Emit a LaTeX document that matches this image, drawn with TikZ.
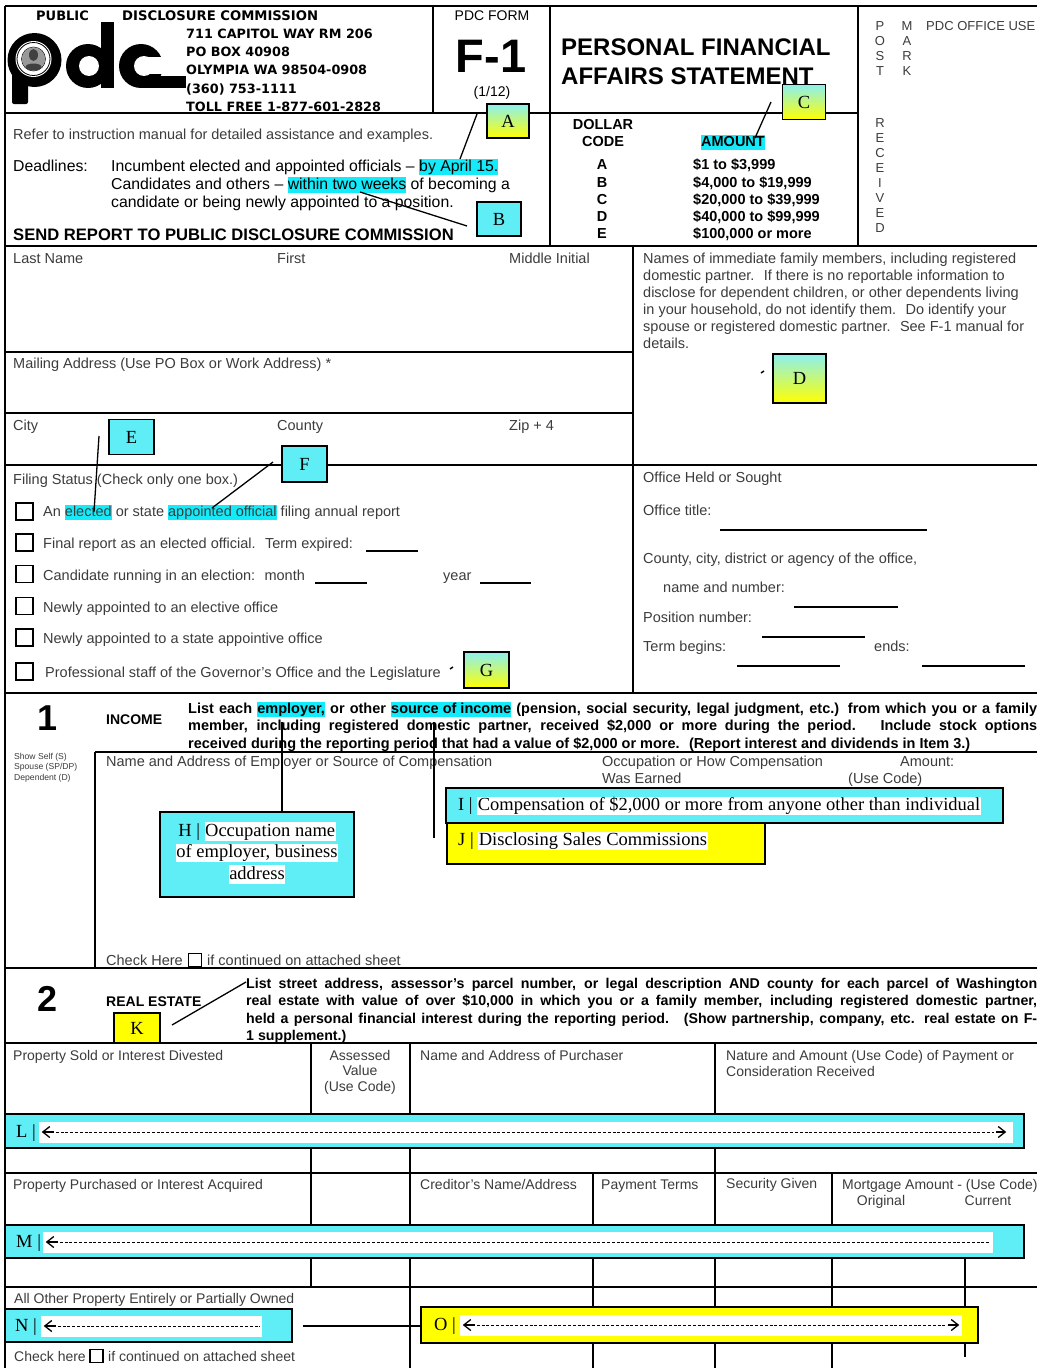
\documentclass[tikz,border=0pt]{standalone}
\usepackage{fontspec}
\setmainfont{Liberation Sans}
\newfontfamily\tnr{Liberation Serif}
\newfontfamily\dvs{DejaVu Sans}
\usetikzlibrary{arrows.meta}
\definecolor{hlc}{RGB}{20,235,250}
\definecolor{boxc}{RGB}{95,238,245}
\definecolor{boxy}{RGB}{255,255,0}
\definecolor{gtop}{RGB}{140,240,240}
\definecolor{txtg}{RGB}{60,60,60}
\newcommand\fsz[2]{\fontsize{#1pt}{#2pt}\selectfont}
\newcommand\hil[1]{{\setlength{\fboxsep}{0pt}\colorbox{hlc}{\rule[-0.24em]{0pt}{1.02em}#1}}}
\newcommand\wbx[1]{{\setlength{\fboxsep}{0.5pt}\colorbox{white}{\rule[-0.22em]{0pt}{0.95em}#1}}}
\tikzset{
  frm/.style={line width=2pt},
  lab/.style={anchor=mid west, inner sep=0pt, yshift=-3pt, font=\fsz{14.5}{17}, text=txtg},
  tlab/.style={anchor=mid west, inner sep=0pt, yshift=-3pt, font=\fsz{14}{16}, text=txtg},
  tlabc/.style={anchor=mid, inner sep=0pt, yshift=-3pt, font=\fsz{14}{16}, text=txtg},
  dark/.style={anchor=mid west, inner sep=0pt, yshift=-3pt, font=\fsz{15.8}{18}, text=black},
  amt/.style={anchor=mid west, inner sep=0pt, yshift=-3pt, font=\bfseries\fsz{14.5}{17}},
  amtc/.style={anchor=mid, inner sep=0pt, yshift=-3pt, font=\bfseries\fsz{14.5}{17}},
  offc/.style={anchor=mid, inner sep=0pt, yshift=-3pt, font=\fsz{13}{15}, text=txtg},
  addr/.style={anchor=west, inner sep=0pt, font=\dvs\bfseries\fsz{12.8}{15}},
  para/.style={anchor=mid west, inner sep=0pt, yshift=-3pt, font=\bfseries\fsz{14.5}{17}},
  rpara/.style={anchor=mid west, inner sep=0pt, yshift=-3pt, font=\bfseries\fsz{14.2}{17}},
  letbox/.style={draw=black, line width=1.6pt, inner sep=0pt, font=\tnr\fsz{18.5}{20}},
  cbox/.style={letbox, fill=boxc},
  ybox/.style={letbox, fill=boxy},
  gbox/.style={letbox, top color=gtop, bottom color=boxy},
  chk/.style={draw=black, line width=1.8pt, minimum width=17pt, minimum height=17pt, inner sep=0pt},
  ul/.style={line width=1.6pt},
  ptr/.style={line width=1.3pt},
  band/.style={draw=black, line width=2.5pt, inner sep=0pt},
  wstrip/.style={fill=white, inner sep=0pt},
  blab/.style={anchor=mid west, inner sep=0pt, yshift=-2pt, font=\tnr\fsz{18.5}{20}},
  tipl/.style={line width=1.3pt, line join=miter, line cap=butt},
  shaft/.style={line width=1.2pt},
  dsh/.style={line width=1pt, dash pattern=on 3pt off 1.8pt}
}
\begin{document}
\begin{tikzpicture}[x=1pt,y=-1pt]
\useasboundingbox (0,0) rectangle (1037,1368);
\fill[white] (0,0) rectangle (1037,1368);

% ---------- frame lines ----------
\draw[frm] (5,6) -- (1037,6);
\draw[frm] (5,6) -- (5,1368);
\draw[frm] (433,6) -- (433,113);
\draw[frm] (550,6) -- (550,246);
\draw[frm] (858,6) -- (858,246);
\draw[frm] (5,113) -- (858,113);
\draw[frm] (5,246) -- (1037,246);
\draw[frm] (633,246) -- (633,693);
\draw[frm] (5,352) -- (633,352);
\draw[frm] (5,413) -- (633,413);
\draw[frm] (5,465) -- (1037,465);
\draw[frm] (5,693) -- (1037,693);
\draw[frm] (95,752) -- (1037,752);
\draw[frm] (95,752) -- (95,968);
\draw[frm] (5,968) -- (1037,968);
\draw[frm] (5,1043) -- (1037,1043);
\draw[frm] (311,1043) -- (311,1173);
\draw[frm] (410,1043) -- (410,1173);
\draw[frm] (715,1043) -- (715,1173);
\draw[frm] (5,1173) -- (1037,1173);
\draw[frm] (311,1173) -- (311,1287);
\draw[frm] (410,1173) -- (410,1368);
\draw[frm] (593,1173) -- (593,1368);
\draw[frm] (715,1173) -- (715,1368);
\draw[frm] (832,1173) -- (832,1368);
\draw[frm] (965,1258) -- (965,1357);
\draw[frm] (5,1287) -- (1037,1287);

% ---------- logo ----------
\fill[black] (34.5,60) circle (27);
\fill[black, rounded corners=2pt] (12,60) rectangle (28,104);
\fill[white] (33.5,59) circle (18);
\draw[line width=0.8pt] (33.5,59) circle (16.5);
\fill[black!40] (33.5,59) circle (11.5);
\draw[line width=0.5pt] (33.5,59) circle (12);
\fill[black!75] (33.5,55) ellipse (4.5 and 6);
\fill[black!75] (33.5,67) ellipse (8 and 3.5);
\fill[black] (88,66) circle (22);
\fill[white] (89,66) circle (10);
\fill[black] (101,22) rectangle (114,88);
\fill[black] (141,66) circle (22);
\fill[white] (144,66) circle (10);
\fill[white] (146,57) rectangle (166,74);
\fill[black] (141,76) rectangle (186,88);

% ---------- header texts ----------
\node[anchor=west, inner sep=0pt, font=\dvs\bfseries\fsz{13}{15}] (pub) at (36,16) {PUBLIC};
\node[anchor=west, inner sep=0pt, font=\dvs\bfseries\fsz{13.2}{15}] (disc) at (122,16) {DISCLOSURE COMMISSION};
\node[addr] (ad1) at (186,34) {711 CAPITOL WAY RM 206};
\node[addr] (ad2) at (186,52) {PO BOX 40908};
\node[addr] (ad3) at (186,70) {OLYMPIA WA 98504-0908};
\node[addr] (ad4) at (186,89) {(360) 753-1111};
\node[addr] (ad5) at (186,107) {TOLL FREE 1-877-601-2828};
\node[anchor=center, inner sep=0pt, font=\fsz{14}{16}] (pdcf) at (492,16) {PDC FORM};
\node[anchor=center, inner sep=0pt, font=\bfseries\fsz{47}{50}] (fone) at (491,56) {F-1};
\node[anchor=mid, inner sep=0pt, yshift=-3pt, font=\fsz{14}{16}] (ver) at (492,91) {(1/12)};
\node[anchor=west, inner sep=0pt, font=\bfseries\fsz{24}{28}] (tit1) at (561,47) {PERSONAL FINANCIAL};
\node[anchor=west, inner sep=0pt, font=\bfseries\fsz{24}{28}] (tit2) at (561,76) {AFFAIRS STATEMENT};

\foreach \l/\yy in {P/25,O/40,S/55,T/70} \node[offc] (post\yy) at (880,\yy) {\l};
\foreach \l/\yy in {M/25,A/40,R/55,K/70} \node[offc] (mark\yy) at (907,\yy) {\l};
\node[offc, anchor=mid west] (offuse) at (926,25) {PDC OFFICE USE};
\foreach \l [count=\i] in {R,E,C,E,I,V,E,D} \node[offc] (rec\i) at (880,107+15*\i) {\l};

\node[lab] (refer) at (13,134) {Refer to instruction manual for detailed assistance and examples.};
\node[dark] (dl) at (13,166) {Deadlines:};
\node[dark] (dl1) at (111,166) {Incumbent elected and appointed officials – \hil{by April 15.}};
\node[dark] (dl2) at (111,184) {Candidates and others – \hil{within two weeks} of becoming a};
\node[dark] (dl3) at (111,202) {candidate or being newly appointed to a position.};
\node[anchor=west, inner sep=0pt, font=\bfseries\fsz{16.6}{19}] (send) at (13,235) {SEND REPORT TO PUBLIC DISCLOSURE COMMISSION};

\node[amtc] (dollar) at (603,124) {DOLLAR};
\node[amtc] (code) at (603,141) {CODE};
\node[amtc] (amount) at (733,141) {\hil{AMOUNT}};
\foreach \c/\yy in {A/164,B/182,C/199,D/216,E/233} \node[amtc] (code\c) at (602,\yy) {\c};
\node[amt] (am1) at (693,164) {\$1 to \$3,999};
\node[amt] (am2) at (693,182) {\$4,000 to \$19,999};
\node[amt] (am3) at (693,199) {\$20,000 to \$39,999};
\node[amt] (am4) at (693,216) {\$40,000 to \$99,999};
\node[amt] (am5) at (693,233) {\$100,000 or more};

% ---------- boxes A B C ----------
\node[gbox, minimum width=42pt, minimum height=34pt] (A) at (508,121) {A};
\node[cbox, minimum width=44pt, minimum height=34pt] (B) at (499,219) {B};
\node[gbox, minimum width=43pt, minimum height=35pt] (C) at (804,102) {C};
\coordinate (Aa) at (477,114); \coordinate (Ab) at (460,159);
\draw[ptr] (Aa) -- (Ab);
\coordinate (Ba) at (467,226); \coordinate (Bb) at (360,192);
\draw[ptr] (Ba) -- (Bb);
\coordinate (Ca) at (771,102); \coordinate (Cb) at (755,138);
\draw[ptr] (Ca) -- (Cb);

% ---------- personal info ----------
\node[lab] (lname) at (13,258) {Last Name};
\node[lab] (first) at (277,258) {First};
\node[lab] (mid) at (509,258) {Middle Initial};
\node[lab] (mail) at (13,363) {Mailing Address (Use PO Box or Work Address) *};
\node[lab] (city) at (13,425) {City};
\node[lab] (county) at (277,425) {County};
\node[lab] (zip) at (509,425) {Zip + 4};
\node[lab] (fstat) at (13,479) {Filing Status (Check only one box.)};
\foreach \yy [count=\i] in {511.5,542.5,574,606,637.5,671.5} \node[chk] (cb\i) at (24.5,\yy) {};
\node[lab] (r1) at (43,511) {An \hil{elected} or state \hil{appointed official} filing annual report};
\node[lab] (r2) at (43,543) {Final report as an elected official.~ Term expired:};
\node[lab] (r3) at (43,575) {Candidate running in an election:~ month};
\node[lab] (r3y) at (443,575) {year};
\node[lab] (r4) at (43,607) {Newly appointed to an elective office};
\node[lab] (r5) at (43,638) {Newly appointed to a state appointive office};
\node[lab] (r6) at (45,672) {Professional staff of the Governor’s Office and the Legislature};
\coordinate (u1a) at (366,551); \coordinate (u1b) at (418,551); \draw[ul] (u1a) -- (u1b);
\coordinate (u2a) at (315,583); \coordinate (u2b) at (367,583); \draw[ul] (u2a) -- (u2b);
\coordinate (u3a) at (480,583); \coordinate (u3b) at (531,583); \draw[ul] (u3a) -- (u3b);

\node[cbox, minimum width=45pt, minimum height=35pt] (E) at (131.5,437) {E};
\node[cbox, minimum width=45pt, minimum height=36pt] (F) at (304.5,464) {F};
\node[gbox, minimum width=45pt, minimum height=36pt] (G) at (486.5,670) {G};
\coordinate (Ea) at (99,436); \coordinate (Eb) at (94,512);
\draw[ptr] (Ea) -- (Eb);
\coordinate (Fa) at (273,462); \coordinate (Fb) at (212,508);
\draw[ptr] (Fa) -- (Fb);
\coordinate (Ga) at (450,669); \coordinate (Gb) at (453,667);
\draw[line width=1.5pt] (Ga) -- (Gb);

% ---------- right column ----------
\node[lab] (fam1) at (643,258) {Names of immediate family members, including registered};
\node[lab] (fam2) at (643,275) {domestic partner.~ If there is no reportable information to};
\node[lab] (fam3) at (643,292) {disclose for dependent children, or other dependents living};
\node[lab] (fam4) at (643,309) {in your household, do not identify them.~ Do identify your};
\node[lab] (fam5) at (643,326) {spouse or registered domestic partner.~ See F-1 manual for};
\node[lab] (fam6) at (643,343) {details.};
\node[gbox, minimum width=53pt, minimum height=49pt] (D) at (799.5,378.5) {D};
\coordinate (Da) at (761,373); \coordinate (Db) at (764,371);
\draw[line width=1.5pt] (Da) -- (Db);

\node[lab] (ohs) at (643,477) {Office Held or Sought};
\node[lab] (otit) at (643,510) {Office title:};
\node[lab] (occ) at (643,558) {County, city, district or agency of the office,};
\node[lab] (onn) at (663,587) {name and number:};
\node[lab] (opos) at (643,617) {Position number:};
\node[lab] (oterm) at (643,646) {Term begins:};
\node[lab] (oends) at (874,646) {ends:};
\coordinate (o1a) at (720,530); \coordinate (o1b) at (927,530); \draw[ul] (o1a) -- (o1b);
\coordinate (o2a) at (794,607); \coordinate (o2b) at (898,607); \draw[ul] (o2a) -- (o2b);
\coordinate (o3a) at (762,637); \coordinate (o3b) at (865,637); \draw[ul] (o3a) -- (o3b);
\coordinate (o4a) at (737,666); \coordinate (o4b) at (840,666); \draw[ul] (o4a) -- (o4b);
\coordinate (o5a) at (922,666); \coordinate (o5b) at (1025,666); \draw[ul] (o5a) -- (o5b);

% ---------- income ----------
\node[anchor=center, inner sep=0pt, font=\bfseries\fsz{36}{40}] (one) at (48,718) {1};
\node[anchor=west, inner sep=0pt, font=\bfseries\fsz{14}{16}] (income) at (106,720) {INCOME};
\node[para] (ip1) at (188,708) {\makebox[849pt][s]{List each \hil{employer,} or other \hil{source of income} (pension, social security, legal judgment, etc.) from which you or a family}};
\node[para] (ip2) at (188,725) {\makebox[849pt][s]{member, including registered domestic partner, received \$2,000 or more during the period.~ Include stock options}};
\node[para] (ip3) at (188,743) {received during the reporting period that had a value of \$2,000 or more.~ (Report interest and dividends in Item 3.)};
\node[anchor=north west, inner sep=0pt, align=left, font=\fsz{8.6}{10.5}, text=txtg] (show) at (14,753) {Show Self (S)\\Spouse (SP/DP)\\Dependent (D)};
\node[lab] (iname) at (106,761) {Name and Address of Employer or Source of Compensation};
\node[lab] (iocc) at (602,761) {Occupation or How Compensation};
\node[lab] (iwas) at (602,778) {Was Earned};
\node[lab] (iamt) at (900,761) {Amount:};
\node[lab] (iuse) at (848,778) {(Use Code)};
\node[lab] (ichk) at (106,960) {Check Here};
\node[draw=black, line width=1.6pt, minimum width=13pt, minimum height=13pt, inner sep=0pt] (ichkb) at (195,960) {};
\node[lab] (ichk2) at (207,960) {if continued on attached sheet};

\node[draw=black, line width=2pt, fill=boxc, minimum width=194pt, minimum height=85pt, inner sep=0pt] (H) at (257,854.5) {};
\node[align=center, inner sep=0pt, font=\tnr\fsz{18.5}{21.5}] (Htxt) at (257,853) {H | \wbx{Occupation name}\\\wbx{of employer, business}\\\wbx{address}};
\node[draw=black, line width=2pt, fill=boxc, minimum width=557pt, minimum height=35pt, inner sep=0pt] (I) at (724.5,805.5) {};
\node[blab] (Itxt) at (458,806) {I | \wbx{Compensation of \$2,000 or more from anyone other than individual}};
\node[draw=black, line width=2pt, fill=boxy, minimum width=318pt, minimum height=41pt, inner sep=0pt] (J) at (605.5,843.5) {};
\node[blab] (Jtxt) at (458,841) {J | \wbx{Disclosing Sales Commissions}};
\coordinate (empPt) at (282,722);
\draw[ptr] (empPt) -- (empPt |- H.north);
\coordinate (srcA) at (434,722); \coordinate (srcB) at (434,838);
\draw[ptr] (srcA) -- (srcB);

% ---------- real estate ----------
\node[anchor=center, inner sep=0pt, font=\bfseries\fsz{36}{40}] (two) at (48,999) {2};
\node[anchor=west, inner sep=0pt, font=\bfseries\fsz{14}{16}] (reale) at (106,1002) {REAL ESTATE};
\node[rpara] (rp1) at (246,983) {\makebox[791pt][s]{List street address, assessor’s parcel number, or legal description AND county for each parcel of Washington}};
\node[rpara] (rp2) at (246,1000) {\makebox[791pt][s]{real estate with value of over \$10,000 in which you or a family member, including registered domestic partner,}};
\node[rpara] (rp3) at (246,1017.5) {\makebox[791pt][s]{held a personal financial interest during the reporting period.~ (Show partnership, company, etc. real estate on F-}};
\node[rpara] (rp4) at (246,1034.5) {1 supplement.)};
\node[ybox, minimum width=46pt, minimum height=30pt] (K) at (137,1028) {K};
\coordinate (Ka) at (172,1025); \coordinate (Kb) at (246,982);
\draw[ptr] (Ka) -- (Kb);

\node[tlab] (ps) at (13,1055) {Property Sold or Interest Divested};
\node[tlabc] (av1) at (360,1055) {Assessed};
\node[tlabc] (av2) at (360,1070) {Value};
\node[tlabc] (av3) at (360,1086) {(Use Code)};
\node[tlab] (np) at (420,1055) {Name and Address of Purchaser};
\node[tlab] (na1) at (726,1055) {Nature and Amount (Use Code) of Payment or};
\node[tlab] (na2) at (726,1071) {Consideration Received};

% L band
\node[band, fill=boxc, minimum width=1019pt, minimum height=34pt] (L) at (514.5,1131) {};
\node[wstrip, minimum width=974pt, minimum height=21pt] (Lw) at (526,1132) {};
\node[blab] (Ll) at (16,1133) {L |};
\draw[tipl] ([xshift=11pt,yshift=5.5pt]Lw.west) -- ([xshift=4pt]Lw.west) -- ([xshift=11pt,yshift=-5.5pt]Lw.west);
\draw[shaft] ([xshift=4pt]Lw.west) -- ([xshift=15pt]Lw.west);
\draw[dsh] ([xshift=17pt]Lw.west) -- ([xshift=-19pt]Lw.east);
\draw[shaft] ([xshift=-17pt]Lw.east) -- ([xshift=-8pt]Lw.east);
\draw[tipl] ([xshift=-15pt,yshift=5.5pt]Lw.east) -- ([xshift=-8pt]Lw.east) -- ([xshift=-15pt,yshift=-5.5pt]Lw.east);

\node[tlab] (pp) at (13,1184) {Property Purchased or Interest Acquired};
\node[tlab] (cn) at (420,1184) {Creditor’s Name/Address};
\node[tlab] (pt) at (601,1184) {Payment Terms};
\node[tlab] (sg) at (726,1183) {Security Given};
\node[tlab] (ma) at (842,1184) {Mortgage Amount - (Use Code)};
\node[tlabc] (orig) at (881,1200) {Original};
\node[tlabc] (curr) at (988,1200) {Current};

% M band
\node[band, fill=boxc, minimum width=1019pt, minimum height=33pt] (M) at (514.5,1241.5) {};
\node[wstrip, minimum width=950pt, minimum height=21pt] (Mw) at (518,1242) {};
\node[blab] (Ml) at (16,1243) {M |};
\draw[tipl] ([xshift=11pt,yshift=5.5pt]Mw.west) -- ([xshift=4pt]Mw.west) -- ([xshift=11pt,yshift=-5.5pt]Mw.west);
\draw[shaft] ([xshift=4pt]Mw.west) -- ([xshift=15pt]Mw.west);
\draw[dsh] ([xshift=17pt]Mw.west) -- ([xshift=-3pt]Mw.east);

\node[tlab] (ao) at (14,1298) {All Other Property Entirely or Partially Owned};
% N band
\node[band, fill=boxc, minimum width=287pt, minimum height=33pt] (N) at (148.5,1325.5) {};
\node[wstrip, minimum width=221pt, minimum height=21pt] (Nw) at (151.5,1326) {};
\node[blab] (Nl) at (15,1327) {N |};
\draw[tipl] ([xshift=11pt,yshift=5.5pt]Nw.west) -- ([xshift=4pt]Nw.west) -- ([xshift=11pt,yshift=-5.5pt]Nw.west);
\draw[shaft] ([xshift=4pt]Nw.west) -- ([xshift=15pt]Nw.west);
\draw[dsh] ([xshift=17pt]Nw.west) -- ([xshift=-2pt]Nw.east);

% O band
\node[band, fill=boxy, minimum width=557pt, minimum height=36pt] (O) at (699.5,1325) {};
\node[wstrip, minimum width=502pt, minimum height=21pt] (Ow) at (711,1325) {};
\node[blab] (Ol) at (434,1326) {O |};
\draw[tipl] ([xshift=11pt,yshift=5.5pt]Ow.west) -- ([xshift=4pt]Ow.west) -- ([xshift=11pt,yshift=-5.5pt]Ow.west);
\draw[shaft] ([xshift=4pt]Ow.west) -- ([xshift=15pt]Ow.west);
\draw[dsh] ([xshift=17pt]Ow.west) -- ([xshift=-15pt]Ow.east);
\draw[shaft] ([xshift=-14pt]Ow.east) -- ([xshift=-4pt]Ow.east);
\draw[tipl] ([xshift=-11pt,yshift=5.5pt]Ow.east) -- ([xshift=-4pt]Ow.east) -- ([xshift=-11pt,yshift=-5.5pt]Ow.east);
\draw[frm] ([xshift=10pt]N.east) -- (N.east -| O.west);

\node[tlab] (chk2t) at (14,1356) {Check here};
\node[draw=black, line width=1.8pt, minimum width=13pt, minimum height=13pt, inner sep=0pt] (chk2b) at (96.5,1356) {};
\node[tlab] (chk2s) at (108,1356) {if continued on attached sheet};
\end{tikzpicture}
\end{document}
